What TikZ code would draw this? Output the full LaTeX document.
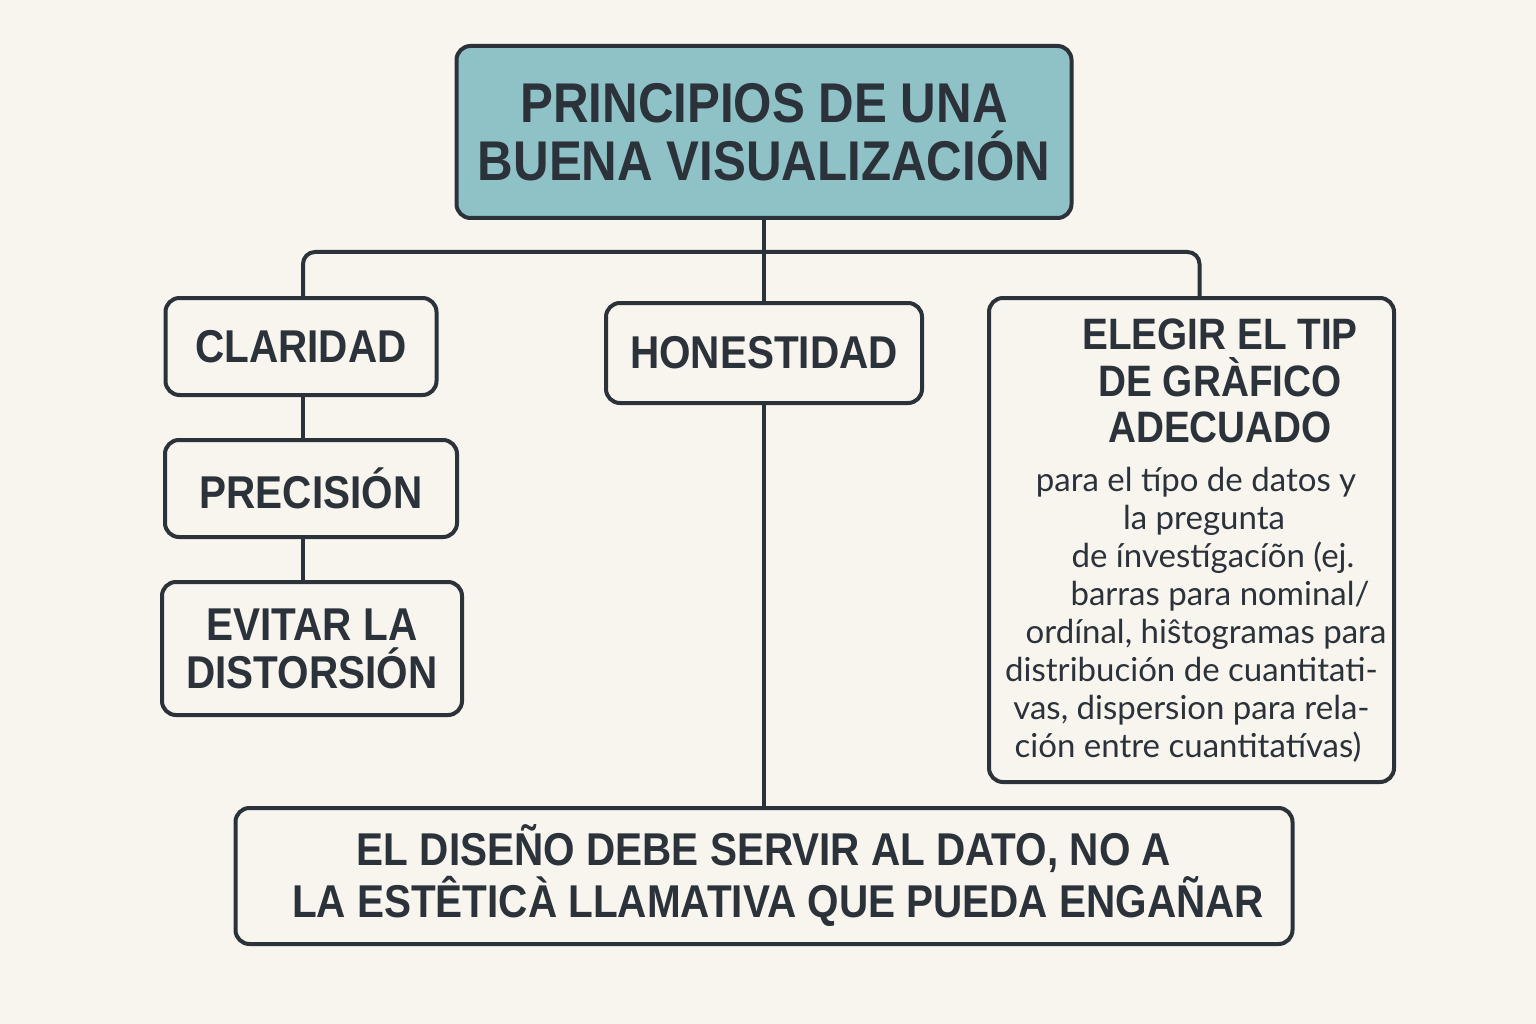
\documentclass[tikz,border=0pt]{standalone}
\usepackage{fontspec}
\setmainfont{Liberation Sans}
\newfontfamily\hdfont[FakeStretch=0.88]{Liberation Sans}
\newfontfamily\bdfont{Lato}
\usetikzlibrary{calc}
\definecolor{ink}{HTML}{2B323A}
\definecolor{paper}{HTML}{F8F5EF}
\definecolor{teal}{HTML}{8FC2C6}
\begin{document}
\begin{tikzpicture}[x=1pt,y=-1pt,
  box/.style={draw=ink, line width=4pt, rounded corners=14pt, fill=paper, text=ink, inner sep=0pt, align=center},
  head/.style={font=\hdfont\bfseries\fontsize{46}{48}\selectfont},
  link/.style={draw=ink, line width=4pt}]
\fill[paper] (0,0) rectangle (1536,1024);
\useasboundingbox (0,0) rectangle (1536,1024);

\node[box, fill=teal, minimum width=615pt, minimum height=172pt,
  font=\hdfont\bfseries\fontsize{56}{58}\selectfont] (title) at (764,132)
  {PRINCIPIOS DE UNA\\BUENA VISUALIZACIÓN};

\node[box, head, minimum width=271pt, minimum height=97pt] (clar) at (301,346.5) {CLARIDAD};
\node[box, head, minimum width=292pt, minimum height=97pt] (prec) at (311,488.5) {PRECISIÓN};
\node[box, head, minimum width=300pt, minimum height=133pt] (evit) at (312,648.5) {EVITAR LA\\DISTORSIÓN};
\node[box, head, minimum width=316pt, minimum height=100pt] (hon) at (764,353) {HONESTIDAD};

\node[box, minimum width=405pt, minimum height=484pt] (right) at (1191.5,540)
  {\parbox[c][470pt][c]{390pt}{\centering\parskip=0pt
   \vspace*{2pt}
   \hdfont\bfseries\fontsize{44}{46.5}\selectfont
   \hspace*{57pt}ELEGIR EL TIP\\
   \hspace*{57pt}DE GRÀFICO\\
   \hspace*{57pt}ADECUADO\par
   \vspace{11pt}
   \bdfont\mdseries\fontsize{33}{38}\selectfont
   \hspace*{9pt}para el típo de datos y\\
   \hspace*{25pt}la pregunta\\
   \hspace*{43pt}de ínvestígacíõn (ej.\\
   \hspace*{57pt}barras para nominal/\\
   \hspace*{29pt}ordínal, hiŝtogramas para\\
   distribución de cuantitati-\hspace*{5pt}\\
   vas, dispersion para rela-\\
   ción entre cuantitatívas)\hspace*{7pt}\par}};

\node[box, minimum width=1057pt, minimum height=136pt] (bottom) at (764,876)
  {\parbox[c]{1000pt}{\centering\hdfont\bfseries\fontsize{46}{52}\selectfont
   EL DISEÑO DEBE SERVIR AL DATO, NO A\hspace*{28pt}\\
   \hspace*{28pt}LA ESTÊTICÀ LLAMATIVA QUE PUEDA ENGAÑAR\par}};

\coordinate (bar) at (764,252);
\draw[link] (title.south) -- (hon.north);
\draw[link, rounded corners=12pt] ($(clar.north)+(2,0)$) |- (bar) -| ($(right.north)+(8,0)$);
\draw[link] ($(clar.south)+(2,0)$) -- ($(clar.south |- prec.north)+(2,0)$);
\draw[link] ($(clar.south |- prec.south)+(2,0)$) -- ($(clar.south |- evit.north)+(2,0)$);
\draw[link] (hon.south) -- (bottom.north);
\end{tikzpicture}
\end{document}
